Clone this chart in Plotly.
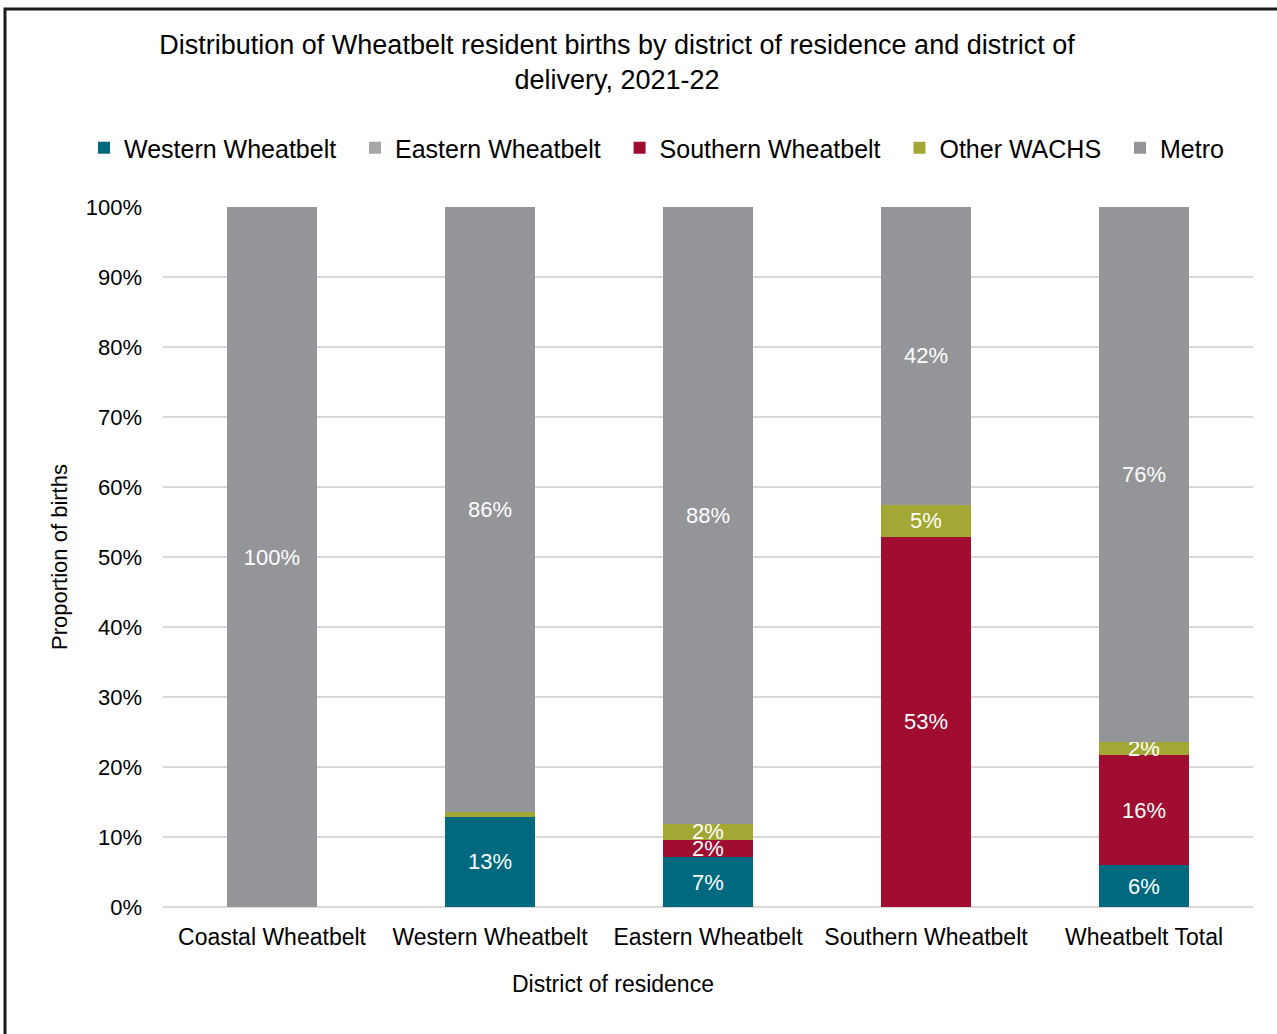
import plotly.graph_objects as go

categories = ["Coastal Wheatbelt", "Western Wheatbelt", "Eastern Wheatbelt", "Southern Wheatbelt", "Wheatbelt Total"]
western_wb = [0.0, 12.9, 7.1, 0.0, 6.0]
eastern_wb = [0.0, 0.0, 0.0, 0.0, 0.0]
southern_wb = [0.0, 0.0, 2.5, 52.9, 15.7]
other_wachs = [0.0, 0.7, 2.3, 4.6, 1.9]
metro = [100.0, 86.4, 88.1, 42.5, 76.4]

series = [
    ("Western Wheatbelt", western_wb, "#00687F"),
    ("Eastern Wheatbelt", eastern_wb, "#A6A6A6"),
    ("Southern Wheatbelt", southern_wb, "#A00D30"),
    ("Other WACHS", other_wachs, "#A3A834"),
    ("Metro", metro, "#949599"),
]

FONT = "Arial, Liberation Sans, sans-serif"
PAD = "\u00a0\u00a0"

fig = go.Figure()
for i, (name, vals, color) in enumerate(series):
    texts = [f"{round(v)}%" if v >= 1.5 else "" for v in vals]
    label = name + (PAD if i < len(series) - 1 else "")
    fig.add_trace(go.Bar(
        name=label, x=categories, y=vals, marker=dict(color=color, line=dict(width=0)),
        text=texts, textposition="inside", insidetextanchor="middle",
        textfont=dict(color="white", size=22, family=FONT),
        hoverinfo="skip",
    ))

fig.update_layout(
    barmode="stack",
    bargap=0.59,
    width=1277, height=1034,
    paper_bgcolor="white", plot_bgcolor="white",
    margin=dict(l=163, r=24, t=207, b=127),
    font=dict(family=FONT, color="#000000"),
    uniformtext=dict(minsize=22, mode="show"),
    title=dict(
        text="Distribution of Wheatbelt resident births by district of residence and district of<br>delivery, 2021-22",
        x=(617 - 163) / 1090, xref="paper", xanchor="center",
        y=1 - 54 / 1034, yanchor="middle",
        font=dict(size=27, family=FONT, color="#000000"),
    ),
    legend=dict(
        orientation="h", x=(84 - 163) / 1090, xanchor="left",
        y=(907 - 148) / 700, yanchor="middle",
        font=dict(size=25, family=FONT, color="#000000"),
        itemwidth=30, traceorder="normal",
        bgcolor="rgba(0,0,0,0)",
    ),
    xaxis=dict(
        tickfont=dict(size=23, family=FONT, color="#000000"),
        ticklabelstandoff=14,
        showline=False, showgrid=False, ticks="",
    ),
    yaxis=dict(
        title=dict(text="Proportion of births", font=dict(size=22, family=FONT, color="#000000"), standoff=12),
        range=[0, 100], dtick=10, ticksuffix="%",
        tickfont=dict(size=22, family=FONT, color="#000000"),
        ticklabelstandoff=20,
        showgrid=True, gridcolor="#D9D9D9", gridwidth=1.5,
        zeroline=True, zerolinecolor="#D9D9D9", zerolinewidth=1.5,
        showline=False, ticks="",
    ),
    annotations=[dict(
        text="District of residence", xref="paper", yref="paper",
        x=(613 - 163) / 1090, y=(907 - 984) / 700, xanchor="center", yanchor="middle",
        showarrow=False, font=dict(size=23, family=FONT, color="#000000"),
    )],
    shapes=[dict(
        type="rect", xref="paper", yref="paper",
        x0=(5 - 163) / 1090, x1=(1300 - 163) / 1090,
        y0=(907 - 1060) / 700, y1=(907 - 9) / 700,
        line=dict(color="#1A1A1A", width=3), fillcolor="rgba(0,0,0,0)", layer="above",
    )],
)

fig.write_html("out.html", config={"displayModeBar": False},
               post_script="document.body.style.margin='0px';")
